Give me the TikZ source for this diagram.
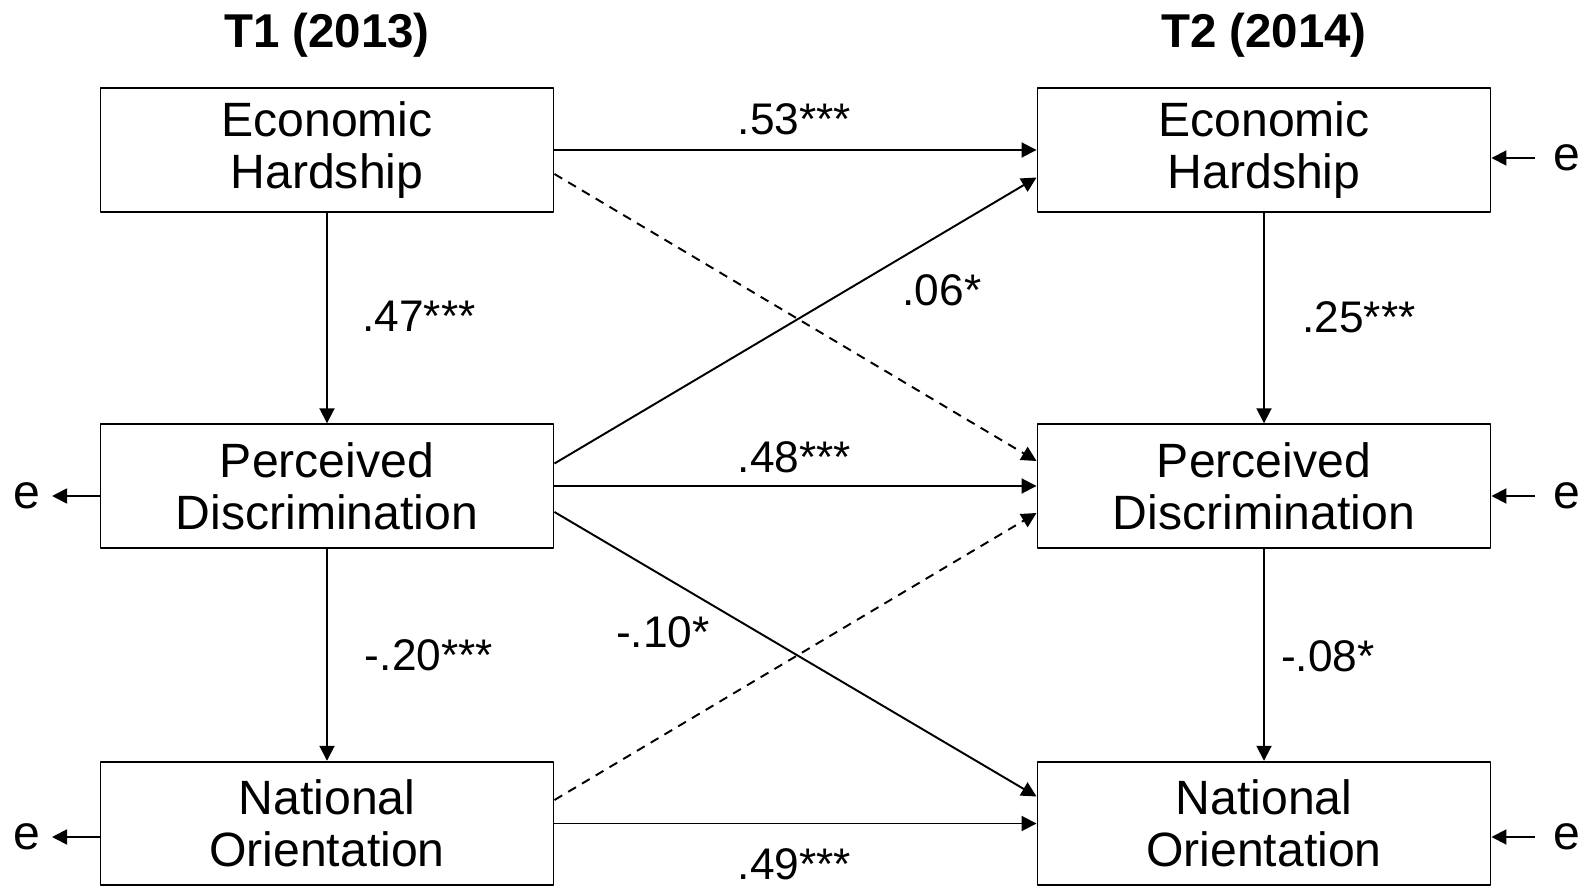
\documentclass[tikz,border=0pt]{standalone}
\usepackage{fontspec}
\setmainfont{Liberation Sans}
\usetikzlibrary{arrows.meta}
\begin{document}
\begin{tikzpicture}[line join=round,>={Triangle[length=0.3cm,width=0.3cm]}]
			\tikzset{box/.style={draw,line width=1.1pt,minimum width=9.06cm,minimum height=2.47cm,align=center,inner sep=0pt,font=\fontsize{27.4}{29.8}\selectfont},
				coef/.style={font=\fontsize{25.2}{28}\selectfont,inner sep=1pt},
				errnode/.style={font=\fontsize{27.4}{29.8}\selectfont,inner sep=0pt},
				arr/.style={->,line width=1.1pt},
				darr/.style={->,line width=1.1pt,dash pattern=on 0.18cm off 0.14cm}}
			\useasboundingbox (0,0) rectangle (31.74,17.74);
			% time points
			\node[font=\fontsize{27}{30}\selectfont\bfseries] (t1) at (6.54,17.04) {T1 (2013)};
			\node[font=\fontsize{27}{30}\selectfont\bfseries] (t2) at (25.28,17.04) {T2 (2014)};
			% variables
			\node[box] (eh1) at (6.54,14.74) {Economic\\Hardship};
			\node[box] (pd1) at (6.54,8.02) {Perceived\\Discrimination};
			\node[box] (no1) at (6.54,1.27) {National\\Orientation};
			\node[box] (eh2) at (25.28,14.74) {Economic\\Hardship};
			\node[box] (pd2) at (25.28,8.02) {Perceived\\Discrimination};
			\node[box] (no2) at (25.28,1.27) {National\\Orientation};
			% residuals
			\node[errnode] (epd1) at (0.54,7.82) {e};
			\node[errnode] (eno1) at (0.54,1.0) {e};
			\node[errnode] (eeh2) at (31.34,14.58) {e};
			\node[errnode] (epd2) at (31.34,7.82) {e};
			\node[errnode] (eno2) at (31.34,1.0) {e};
			\draw[arr] (pd1.west |- epd1) -- ++(-0.95,0);
			\draw[arr] (no1.west |- eno1) -- ++(-0.95,0);
			\draw[arr] ([xshift=-0.64cm]eeh2.center) -- (eh2.east |- eeh2);
			\draw[arr] ([xshift=-0.64cm]epd2.center) -- (pd2.east |- epd2);
			\draw[arr] ([xshift=-0.64cm]eno2.center) -- (no2.east |- eno2);
			% paths
			\draw[arr] (eh1) -- (pd1);
			\draw[arr] (pd1) -- (no1);
			\draw[arr] (eh2) -- (pd2);
			\draw[arr] (pd2) -- (no2);
			\draw[arr] (eh1) -- (eh2);
			\draw[arr] (pd1) -- (pd2);
			\draw[arr] (no1) -- (no2);
			\draw[arr] ([yshift=0.45cm]pd1.east) -- ([yshift=-0.55cm]eh2.west);
			\draw[arr] ([yshift=-0.52cm]pd1.east) -- ([yshift=0.54cm]no2.west);
			\draw[darr] ([yshift=-0.48cm]eh1.east) -- ([yshift=0.5cm]pd2.west);
			\draw[darr] ([yshift=0.47cm]no1.east) -- ([yshift=-0.54cm]pd2.west);
			% coefficients
			\node[coef] (c53) at (15.89,15.35) {.53***};
			\node[coef] (c47) at (8.38,11.42) {.47***};
			\node[coef] (c06) at (18.84,11.93) {.06*};
			\node[coef] (c25) at (27.18,11.40) {.25***};
			\node[coef] (c48) at (15.89,8.59) {.48***};
			\node[coef] (c10) at (13.26,5.09) {-.10*};
			\node[coef] (c20) at (8.58,4.64) {-.20***};
			\node[coef] (c08) at (26.56,4.62) {-.08*};
			\node[coef] (c49) at (15.89,0.46) {.49***};
		\end{tikzpicture}
\end{document}
